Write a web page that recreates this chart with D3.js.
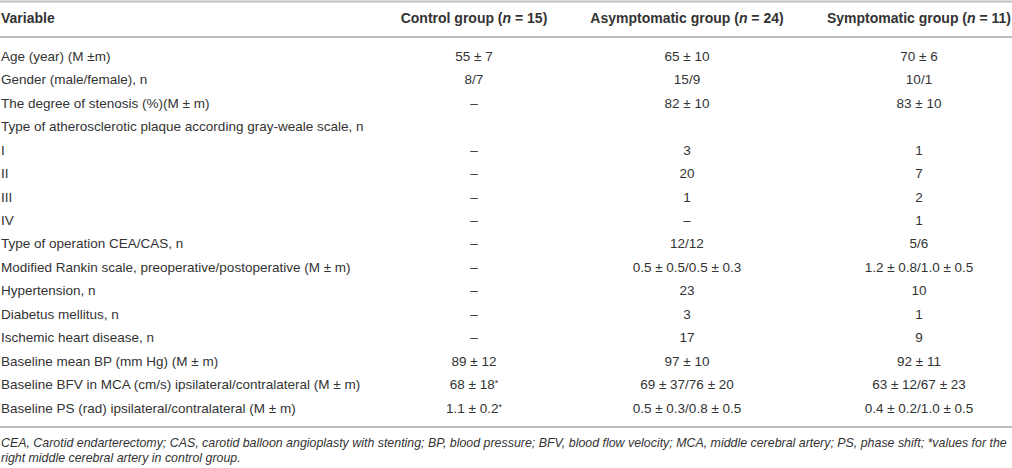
<!DOCTYPE html>
<html>
<head>
<meta charset="utf-8">
<script src="https://cdn.jsdelivr.net/npm/d3@7"></script>
<style>
  body { margin: 0; background: #fff; }
  svg { font-family: "Liberation Sans", Arial, sans-serif; }
</style>
</head>
<body>
<div id="chart"></div>
<script>
// table content
var headers = [
  ['Variable'],
  ['Control group (', {i: 'n'}, ' = 15)'],
  ['Asymptomatic group (', {i: 'n'}, ' = 24)'],
  ['Symptomatic group (', {i: 'n'}, ' = 11)']
];

var variables = [
  'Age (year) (M \u00b1m)',
  'Gender (male/female), n',
  'The degree of stenosis (%)(M \u00b1 m)',
  'Type of atherosclerotic plaque according gray-weale scale, n',
  'I',
  'II',
  'III',
  'IV',
  'Type of operation CEA/CAS, n',
  'Modified Rankin scale, preoperative/postoperative (M \u00b1 m)',
  'Hypertension, n',
  'Diabetus mellitus, n',
  'Ischemic heart disease, n',
  'Baseline mean BP (mm Hg) (M \u00b1 m)',
  'Baseline BFV in MCA (cm/s) ipsilateral/contralateral (M \u00b1 m)',
  'Baseline PS (rad) ipsilateral/contralateral (M \u00b1 m)'
];

var controlGroup = ['55 \u00b1 7', '8/7', '\u2013', '', '\u2013', '\u2013', '\u2013', '\u2013', '\u2013', '\u2013',
  '\u2013', '\u2013', '\u2013', '89 \u00b1 12', '68 \u00b1 18*', '1.1 \u00b1 0.2*'];
var asymptomaticGroup = ['65 \u00b1 10', '15/9', '82 \u00b1 10', '', '3', '20', '1', '\u2013', '12/12',
  '0.5 \u00b1 0.5/0.5 \u00b1 0.3', '23', '3', '17', '97 \u00b1 10', '69 \u00b1 37/76 \u00b1 20', '0.5 \u00b1 0.3/0.8 \u00b1 0.5'];
var symptomaticGroup = ['70 \u00b1 6', '10/1', '83 \u00b1 10', '', '1', '7', '2', '1', '5/6',
  '1.2 \u00b1 0.8/1.0 \u00b1 0.5', '10', '1', '9', '92 \u00b1 11', '63 \u00b1 12/67 \u00b1 23', '0.4 \u00b1 0.2/1.0 \u00b1 0.5'];

var footnotes = [
  'CEA, Carotid endarterectomy; CAS, carotid balloon angioplasty with stenting; BP, blood pressure; BFV, blood flow velocity; MCA, middle cerebral artery; PS, phase shift; *values for the',
  'right middle cerebral artery in control group.'
];

var width = 1012, height = 468;
var textColor = '#333', ruleColor = '#bdbdbd';
var fs = 13.5;

var svg = d3.select('#chart').append('svg')
    .attr('width', width)
    .attr('height', height);

// row positions (text centre lines)
var y = d3.scalePoint()
    .domain(d3.range(variables.length))
    .range([56, 408]);

var colX = [1, 474, 687, 919];
var anchors = ['start', 'middle', 'middle', 'middle'];

function rule(yy) {
  svg.append('line')
      .attr('x1', 0).attr('x2', width)
      .attr('y1', yy).attr('y2', yy)
      .attr('stroke', ruleColor)
      .attr('stroke-width', 2);
}
rule(1.5);
rule(37);
rule(427);

// header
headers.forEach(function(parts, c) {
  var t = svg.append('text')
      .attr('x', colX[c])
      .attr('y', 18)
      .attr('dy', '0.35em')
      .attr('text-anchor', anchors[c])
      .attr('fill', textColor)
      .style('font-size', '14px')
      .style('font-weight', 'bold');
  parts.forEach(function(p) {
    if (typeof p === 'string') {
      t.append('tspan').text(p);
    } else {
      t.append('tspan').style('font-style', 'italic').text(p.i);
    }
  });
});

// body cells
function cell(str, x, yy, anchor) {
  var t = svg.append('text')
      .attr('x', x)
      .attr('y', yy)
      .attr('dy', '0.35em')
      .attr('text-anchor', anchor)
      .attr('fill', textColor)
      .style('font-size', fs + 'px');
  if (str.slice(-1) === '*') {
    t.append('tspan').text(str.slice(0, -1));
    t.append('tspan').attr('dy', '-0.35em').style('font-size', '9px').text('*');
  } else {
    t.text(str);
  }
}

var columns = [variables, controlGroup, asymptomaticGroup, symptomaticGroup];
columns.forEach(function(col, c) {
  col.forEach(function(v, i) {
    if (v) cell(v, colX[c], y(i), anchors[c]);
  });
});

// footnote
svg.selectAll('text.foot')
    .data(footnotes)
  .enter().append('text')
    .attr('class', 'foot')
    .attr('x', 1)
    .attr('y', function(d, i) { return 443 + i * 15; })
    .attr('dy', '0.35em')
    .attr('fill', textColor)
    .style('font-size', '12.4px')
    .style('font-style', 'italic')
    .text(function(d) { return d; });
</script>
</body>
</html>
